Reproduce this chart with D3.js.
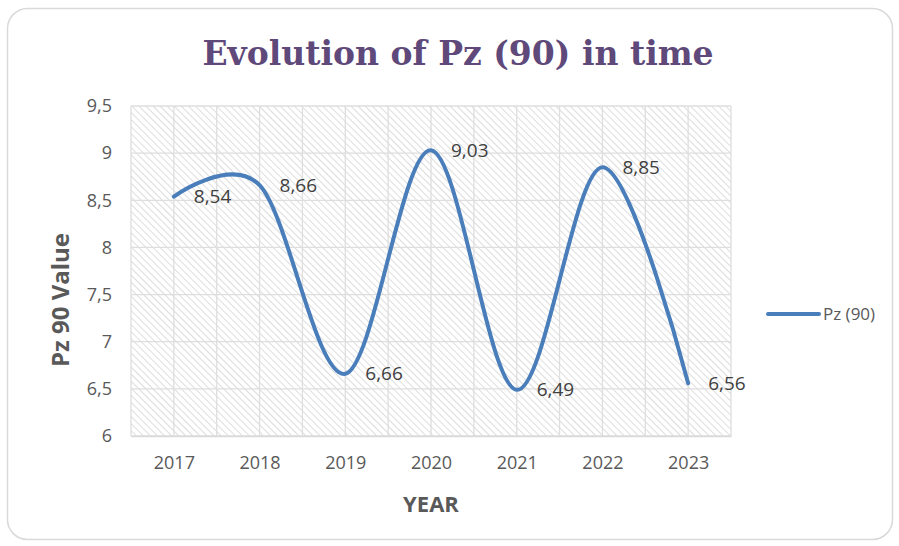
<!DOCTYPE html>
<html>
<head>
<meta charset="utf-8">
<script src="https://cdn.jsdelivr.net/npm/d3@7"></script>
<style>
  body { margin: 0; background: #fff; }
  text { font-family: "Open Sans", sans-serif; }
</style>
</head>
<body>
<div id="chart"></div>
<script>
/// Pz (90) over the years ///
const years = ["2017", "2018", "2019", "2020", "2021", "2022", "2023"];
const pzValues = [8.54, 8.66, 6.66, 9.03, 6.49, 8.85, 6.56];
const yTicks = [6, 6.5, 7, 7.5, 8, 8.5, 9, 9.5];
const seriesName = "Pz (90)";

const W = 899, H = 546;
const margin = { top: 106, right: 168, bottom: 110, left: 131 };
const width = W - margin.left - margin.right;
const height = H - margin.top - margin.bottom;

const svg = d3.select("#chart").append("svg")
  .attr("width", W).attr("height", H);

// hatch fill for the plot area (down-right diagonals)
const defs = svg.append("defs");
defs.append("pattern")
  .attr("id", "hatch")
  .attr("patternUnits", "userSpaceOnUse")
  .attr("width", 5).attr("height", 5)
  .attr("patternTransform", "rotate(-45)")
  .append("line")
  .attr("x1", 0).attr("y1", 0).attr("x2", 0).attr("y2", 5)
  .attr("stroke", "#d4d4d4").attr("stroke-width", 1.6);

// outer frame
svg.append("rect")
  .attr("x", 7.5).attr("y", 8.5)
  .attr("width", 885).attr("height", 531)
  .attr("rx", 20)
  .attr("fill", "#fff").attr("stroke", "#d9d9d9").attr("stroke-width", 1.5);

const g = svg.append("g").attr("transform", `translate(${margin.left},${margin.top})`);

const x = d3.scalePoint().domain(years).range([0, width]).padding(0.5);
const step = x.step();
const y = d3.scaleLinear().domain([6, 9.5]).range([height, 0]);

g.append("rect")
  .attr("width", width).attr("height", height)
  .attr("fill", "url(#hatch)");

// vertical grid: at each year and between them
const vGrid = d3.range(0, years.length * 2 + 1).map((i) => i * step / 2);
g.append("g").selectAll("line").data(vGrid).join("line")
  .attr("x1", (d) => d).attr("x2", (d) => d)
  .attr("y1", 0).attr("y2", height)
  .attr("stroke", "#dedede").attr("stroke-width", 1.3);

g.append("g").selectAll("line").data(yTicks).join("line")
  .attr("x1", 0).attr("x2", width)
  .attr("y1", (d) => y(d)).attr("y2", (d) => y(d))
  .attr("stroke", "#dedede").attr("stroke-width", 1.3);

// axes
const fmt = (d) => String(d).replace(".", ",");
const yAxis = g.append("g")
  .call(d3.axisLeft(y).tickValues(yTicks).tickFormat(fmt).tickSize(0).tickPadding(19));
yAxis.select(".domain").remove();
yAxis.selectAll("text")
  .style("font-size", "18px").attr("fill", "#595959")
  .style("font-family", "'Open Sans', sans-serif");

const xAxis = g.append("g")
  .attr("transform", `translate(0,${height})`)
  .call(d3.axisBottom(x).tickSize(0).tickPadding(20));
xAxis.select(".domain").attr("stroke", "#d9d9d9").attr("stroke-width", 1.5);
xAxis.selectAll("text")
  .style("font-size", "18px").attr("fill", "#595959")
  .style("font-family", "'Open Sans', sans-serif");

// smoothed line, Excel style
const line = d3.line()
  .x((d, i) => x(years[i]))
  .y((d) => y(d))
  .curve(d3.curveCardinal.tension(0));

g.append("path")
  .datum(pzValues)
  .attr("d", line)
  .attr("fill", "none")
  .attr("stroke", "#4a7ebb")
  .attr("stroke-width", 4)
  .attr("stroke-linecap", "round");

// data labels to the right of each point
g.append("g").selectAll("text").data(pzValues).join("text")
  .attr("x", (d, i) => x(years[i]) + 20)
  .attr("y", (d) => y(d))
  .attr("dy", "0.35em")
  .style("font-size", "19px")
  .attr("fill", "#404040")
  .text(fmt);

// titles
svg.append("text")
  .attr("x", 458).attr("y", 65)
  .attr("text-anchor", "middle")
  .style("font-family", "'DejaVu Serif', serif")
  .style("font-weight", "bold")
  .style("font-size", "33px")
  .attr("fill", "#5f497a")
  .text("Evolution of Pz (90) in time");

svg.append("text")
  .attr("x", 431).attr("y", 512)
  .attr("text-anchor", "middle")
  .style("font-weight", "bold")
  .style("font-size", "22px")
  .attr("fill", "#595959")
  .text("YEAR");

svg.append("text")
  .attr("transform", "translate(69,300) rotate(-90)")
  .attr("text-anchor", "middle")
  .style("font-weight", "bold")
  .style("font-size", "24px")
  .attr("fill", "#595959")
  .text("Pz 90 Value");

// legend
const lg = svg.append("g").attr("transform", "translate(768,314)");
lg.append("line")
  .attr("x1", 0).attr("x2", 51)
  .attr("stroke", "#4a7ebb").attr("stroke-width", 4).attr("stroke-linecap", "round");
lg.append("text")
  .attr("x", 55).attr("dy", "0.35em")
  .style("font-size", "17px").attr("fill", "#595959")
  .text(seriesName);
</script>
</body>
</html>
